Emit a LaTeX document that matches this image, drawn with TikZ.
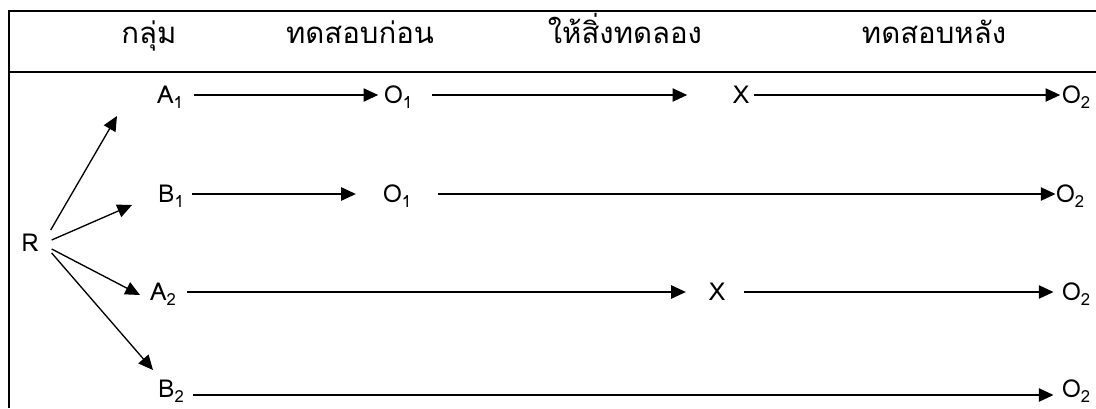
\documentclass[tikz,border=0pt]{standalone}
\usepackage{fontspec}
\setmainfont[Script=Thai]{Loma}
\usetikzlibrary{arrows.meta}
% subscript index that does not change the height of its box
\newcommand{\lowidx}[1]{\raisebox{-3.6pt}[0pt][0pt]{\fontsize{12.5}{14}\selectfont #1}}
\begin{document}
\begin{tikzpicture}[x=0.75pt,y=-0.75pt,
  frame/.style={line width=1.5pt},
  arr/.style={line width=1pt,-{Triangle[length=11pt,width=10pt]}},
  sym/.style={inner sep=0pt,font=\fontsize{18.5}{22}\selectfont},
  head/.style={inner sep=0pt,anchor=base,font=\fontsize{22}{26}\selectfont}]
\useasboundingbox (0,0) rectangle (1096,408);
% table rules
\draw[frame] (1096,11) -- (9,11) -- (9,408);
\draw[frame] (9,72) -- (1096,72);
% column headings
\node[head] (h1) at (149,43) {กลุ่ม};
\node[head] (h2) at (360,43) {ทดสอบก่อน};
\node[head] (h3) at (625,43) {ให้สิ่งทดลอง};
\node[head] (h4) at (934,43) {ทดสอบหลัง};
% row 1
\node[sym] (A1) at (170,95) {A\lowidx{1}};
\node[sym] (O1a) at (398,95) {O\lowidx{1}};
\node[sym] (Xa) at (741,95) {X};
\node[sym] (O2a) at (1076,95) {O\lowidx{2}};
% row 2
\node[sym] (B1) at (171,194) {B\lowidx{1}};
\node[sym] (O1b) at (397,194) {O\lowidx{1}};
\node[sym] (O2b) at (1070,194) {O\lowidx{2}};
% row 3
\node[sym] (A2) at (163,292) {A\lowidx{2}};
\node[sym] (Xc) at (717,292) {X};
\node[sym] (O2c) at (1076,292) {O\lowidx{2}};
% row 4
\node[sym] (B2) at (171,389) {B\lowidx{2}};
\node[sym] (O2d) at (1076,389) {O\lowidx{2}};
% random assignment
\node[sym] (R) at (30,243) {R};
\coordinate (rA1) at (117,116);
\coordinate (rB1) at (132,205);
\coordinate (rA2) at (140,295);
\coordinate (rB2) at (153,370);
\draw[arr] ([shift={(12,-13)}]R.east) -- (rA1);
\draw[arr] ([shift={(13,-3)}]R.east) -- (rB1);
\draw[arr] ([shift={(13,6)}]R.east) -- (rA2);
\draw[arr] ([shift={(13,10)}]R.east) -- (rB2);
% connectors between the stages
\draw[arr,shorten <=8pt,shorten >=4pt] (A1.east) -- (O1a.west);
\draw[arr,shorten <=15pt,shorten >=34pt] (O1a.east) -- (Xa.west);
\draw[arr,shorten <=3pt,shorten >=1pt] (Xa.east) -- (O2a.west);
\draw[arr,shorten <=6pt,shorten >=20pt] (B1.east) -- (O1b.west);
\draw[arr,shorten <=20pt,shorten >=0pt] (O1b.east) -- (O2b.west);
\draw[arr,shorten <=8pt,shorten >=17pt] (A2.east) -- (Xc.west);
\draw[arr,shorten <=14pt,shorten >=6pt] (Xc.east) -- (O2c.west);
\draw[arr,shorten <=7pt,shorten >=6pt] ([yshift=-4.5pt]B2.east) -- ([yshift=-4.5pt]O2d.west);
\end{tikzpicture}
\end{document}
